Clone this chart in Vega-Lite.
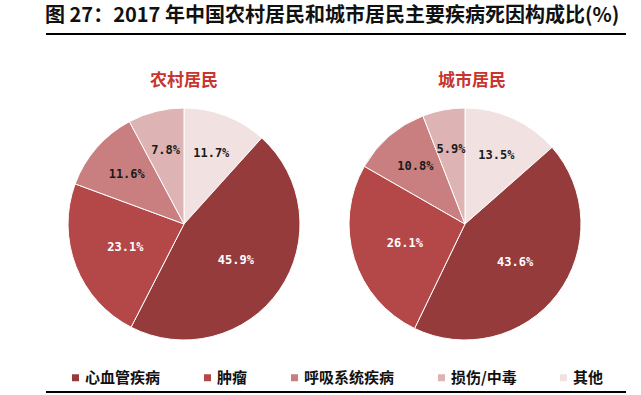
{
  "$schema": "https://vega.github.io/schema/vega-lite/v6.json",
  "background": "white",
  "padding": {"left": 45, "top": 6, "right": 0, "bottom": 0},
  "title": {
    "text": "图 27：2017 年中国农村居民和城市居民主要疾病死因构成比(%)",
    "anchor": "start",
    "font": "Noto Sans CJK SC",
    "fontSize": 20,
    "fontWeight": "bold",
    "color": "#111111",
    "offset": 7
  },
  "datasets": {
    "d": [
      {"group": "农村居民", "category": "其他", "value": 11.7},
      {"group": "农村居民", "category": "心血管疾病", "value": 45.9},
      {"group": "农村居民", "category": "肿瘤", "value": 23.1},
      {"group": "农村居民", "category": "呼吸系统疾病", "value": 11.6},
      {"group": "农村居民", "category": "损伤/中毒", "value": 7.8},
      {"group": "城市居民", "category": "其他", "value": 13.5},
      {"group": "城市居民", "category": "心血管疾病", "value": 43.6},
      {"group": "城市居民", "category": "肿瘤", "value": 26.1},
      {"group": "城市居民", "category": "呼吸系统疾病", "value": 10.8},
      {"group": "城市居民", "category": "损伤/中毒", "value": 5.9}
    ]
  },
  "data": {"name": "d"},
  "transform": [
    {"window": [{"op": "row_number", "as": "rank"}], "groupby": ["group"]},
    {"calculate": "format(datum.value, '.1f') + '%'", "as": "label"}
  ],
  "spacing": 6,
  "resolve": {"legend": {"color": "independent"}},
  "vconcat": [
    {
      "width": 580,
      "height": 32,
      "data": {"values": [{}]},
      "mark": {"type": "rule", "strokeWidth": 2, "color": "#000000"},
      "encoding": {"y": {"datum": 1, "type": "quantitative", "scale": {"domain": [0, 1]}, "axis": null}}
    },
    {
      "spacing": 5,
      "hconcat": [
        {
          "width": 276,
          "height": 232,
          "title": {"text": "农村居民", "font": "Noto Sans CJK SC", "fontSize": 17, "fontWeight": "bold", "color": "#c8352f", "offset": 16},
          "transform": [{"filter": "datum.group === '农村居民'"}],
          "encoding": {
            "theta": {"field": "value", "type": "quantitative", "stack": true},
            "order": {"field": "rank", "type": "quantitative"}
          },
          "layer": [
            {
              "mark": {"type": "arc", "outerRadius": 116, "stroke": "white", "strokeWidth": 1},
              "encoding": {
                "color": {"field": "category", "type": "nominal",
                  "scale": {"domain": ["心血管疾病", "肿瘤", "呼吸系统疾病", "损伤/中毒", "其他"], "range": ["#953b3b", "#b44848", "#c97f7f", "#ddb3b3", "#f1e1e1"]},
                  "legend": null}
              }
            },
            {
              "mark": {"type": "text", "radius": 63, "font": "DejaVu Sans Mono", "fontSize": 12, "fontWeight": "bold", "fill": "white"},
              "encoding": {
                "detail": {"field": "category", "type": "nominal"},
                "text": {"condition": {"test": "indexof(['心血管疾病','肿瘤'], datum.category) >= 0", "field": "label"}, "value": ""}
              }
            },
            {
              "mark": {"type": "text", "radius": 76, "font": "DejaVu Sans Mono", "fontSize": 12, "fontWeight": "bold", "fill": "#1a1a1a"},
              "encoding": {
                "detail": {"field": "category", "type": "nominal"},
                "text": {"condition": {"test": "indexof(['心血管疾病','肿瘤'], datum.category) < 0", "field": "label"}, "value": ""}
              }
            }
          ]
        },
        {
          "width": 276,
          "height": 232,
          "title": {"text": "城市居民", "font": "Noto Sans CJK SC", "fontSize": 17, "fontWeight": "bold", "color": "#c8352f", "offset": 16, "dx": 7},
          "transform": [{"filter": "datum.group === '城市居民'"}],
          "encoding": {
            "theta": {"field": "value", "type": "quantitative", "stack": true},
            "order": {"field": "rank", "type": "quantitative"}
          },
          "layer": [
            {
              "mark": {"type": "arc", "outerRadius": 116, "stroke": "white", "strokeWidth": 1},
              "encoding": {
                "color": {"field": "category", "type": "nominal",
                  "scale": {"domain": ["心血管疾病", "肿瘤", "呼吸系统疾病", "损伤/中毒", "其他"], "range": ["#953b3b", "#b44848", "#c97f7f", "#ddb3b3", "#f1e1e1"]},
                  "legend": null}
              }
            },
            {
              "mark": {"type": "text", "radius": 63, "font": "DejaVu Sans Mono", "fontSize": 12, "fontWeight": "bold", "fill": "white"},
              "encoding": {
                "detail": {"field": "category", "type": "nominal"},
                "text": {"condition": {"test": "indexof(['心血管疾病','肿瘤'], datum.category) >= 0", "field": "label"}, "value": ""}
              }
            },
            {
              "mark": {"type": "text", "radius": 76, "font": "DejaVu Sans Mono", "fontSize": 12, "fontWeight": "bold", "fill": "#1a1a1a"},
              "encoding": {
                "detail": {"field": "category", "type": "nominal"},
                "text": {"condition": {"test": "indexof(['心血管疾病','肿瘤'], datum.category) < 0", "field": "label"}, "value": ""}
              }
            }
          ]
        }
      ]
    },
    {
      "width": 580,
      "height": 44,
      "layer": [
        {
          "data": {"values": [{}]},
          "mark": {"type": "rule", "strokeWidth": 2, "color": "#000000"},
          "encoding": {"y": {"datum": 0, "type": "quantitative", "scale": {"domain": [0, 1]}, "axis": null}}
        },
        {
          "mark": {"type": "square", "size": 0, "filled": true},
          "encoding": {
            "color": {"field": "category", "type": "nominal",
              "scale": {"domain": ["心血管疾病", "肿瘤", "呼吸系统疾病", "损伤/中毒", "其他"], "range": ["#953b3b", "#b44848", "#c97f7f", "#ddb3b3", "#f1e1e1"]},
              "legend": {
                "orient": "top-left",
                "offset": 22,
                "direction": "horizontal",
                "title": null,
                "symbolType": "square",
                "symbolSize": 49,
                "symbolOpacity": 1,
                "symbolStrokeWidth": 0,
                "labelFont": "Noto Sans CJK SC",
                "labelFontSize": 15,
                "labelFontWeight": "bold",
                "labelColor": "#111111",
                "labelOffset": 2,
                "columnPadding": 39,
                "values": ["心血管疾病", "肿瘤", "呼吸系统疾病", "损伤/中毒", "其他"]
              }
            }
          }
        }
      ]
    }
  ],
  "config": {"view": {"stroke": null}}
}
